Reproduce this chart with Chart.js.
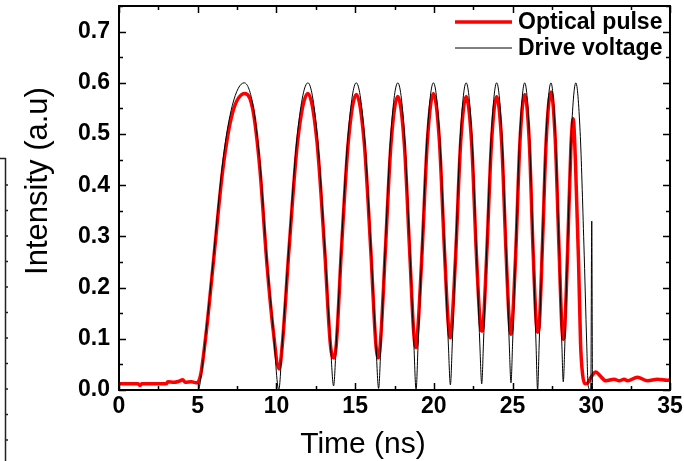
<!DOCTYPE html>
<html><head><meta charset="utf-8">
<script src="https://cdn.jsdelivr.net/npm/chart.js@4.4.1/dist/chart.umd.min.js"></script>
<style>html,body{margin:0;padding:0;background:#fff;}#wrap{width:684px;height:461px;position:relative;}</style>
</head><body><div id="wrap"><canvas id="c" width="684" height="461"></canvas></div>
<script>
// ---- data ----
const seriesLabels = ['Optical pulse', 'Drive voltage'];
const xTickValues = [0, 5, 10, 15, 20, 25, 30, 35];
const yTickValues = [0.0, 0.1, 0.2, 0.3, 0.4, 0.5, 0.6, 0.7];
const xTitle = 'Time (ns)';
const yTitle = 'Intensity (a.u)';

const pulseTime = [0, 1.2, 1.33, 1.45, 3.0, 3.1, 3.5, 3.8, 4.05, 4.2, 4.6, 4.97, 5.1, 5.22, 5.56, 5.98, 6.6, 7.2, 8.0, 8.5, 8.94, 9.4, 9.79, 10.17,
  10.37, 10.8, 11.35, 12.0, 12.57, 13.06, 13.43, 13.63,
  13.8, 14.13, 14.57, 15.07, 15.57, 15.99, 16.32, 16.49,
  16.64, 16.92, 17.28, 17.71, 18.12, 18.46, 18.73, 18.87,
  19.0, 19.26, 19.59, 19.97, 20.35, 20.67, 20.92, 21.05,
  21.17, 21.4, 21.7, 22.05, 22.4, 22.69, 22.92, 23.04,
  23.15, 23.37, 23.66, 23.99, 24.31, 24.58, 24.79, 24.9,
  25.0, 25.21, 25.47, 25.77, 26.06, 26.3, 26.49, 26.59,
  26.69, 26.89, 27.14, 27.44, 27.71, 27.95, 28.13, 28.22,
  28.32, 28.5, 28.7, 28.85, 29.0, 29.19, 29.32, 29.45, 29.6, 29.75,
  30.0, 30.29, 30.55, 30.92, 31.45, 31.77, 32.09, 32.3, 32.93, 33.57, 34.2, 34.83, 35];
const pulseValue = [0.012, 0.012, 0.009, 0.012, 0.012, 0.016, 0.015, 0.017, 0.02, 0.015, 0.016, 0.014, 0.02, 0.035, 0.118, 0.245, 0.432, 0.54, 0.579, 0.548, 0.435, 0.245, 0.118, 0.041,
  0.087, 0.275, 0.487, 0.579, 0.487, 0.275, 0.088, 0.063,
  0.088, 0.275, 0.486, 0.577, 0.486, 0.275, 0.088, 0.063,
  0.108, 0.273, 0.482, 0.573, 0.482, 0.273, 0.108, 0.083,
  0.127, 0.275, 0.487, 0.579, 0.487, 0.275, 0.127, 0.102,
  0.14, 0.273, 0.482, 0.573, 0.482, 0.273, 0.14, 0.115,
  0.134, 0.273, 0.482, 0.573, 0.482, 0.273, 0.134, 0.109,
  0.138, 0.275, 0.486, 0.577, 0.486, 0.275, 0.138, 0.113,
  0.124, 0.277, 0.49, 0.582, 0.49, 0.277, 0.124, 0.099,
  0.124, 0.275, 0.47, 0.53, 0.44, 0.252, 0.09, 0.03, 0.012, 0.013,
  0.026, 0.035, 0.028, 0.018, 0.021, 0.018, 0.021, 0.018, 0.025, 0.018, 0.021, 0.019, 0.02];

const driveTime = [0, 5.03, 5.25, 5.56, 5.98, 6.6, 7.2, 7.95, 8.5, 8.94, 9.4, 9.79, 10.15,
  10.37, 10.8, 11.35, 12.0, 12.57, 13.06, 13.43, 13.63,
  13.8, 14.13, 14.57, 15.07, 15.57, 15.99, 16.32, 16.49,
  16.64, 16.92, 17.28, 17.71, 18.12, 18.46, 18.73, 18.87,
  19.0, 19.26, 19.59, 19.97, 20.35, 20.67, 20.92, 21.05,
  21.17, 21.4, 21.7, 22.05, 22.4, 22.69, 22.92, 23.04,
  23.15, 23.37, 23.66, 23.99, 24.31, 24.58, 24.79, 24.9,
  25.0, 25.21, 25.47, 25.77, 26.06, 26.3, 26.49, 26.59,
  26.69, 26.89, 27.14, 27.44, 27.71, 27.95, 28.13, 28.22,
  28.32, 28.5, 28.74, 29.02, 29.29, 29.53, 29.71, 29.8,
  29.97, 30.03, 30.08, 35];
const driveValue = [0, 0, 0.035, 0.122, 0.252, 0.448, 0.556, 0.6, 0.558, 0.448, 0.252, 0.122, 0,
  0.09, 0.285, 0.505, 0.6, 0.505, 0.285, 0.09, 0.008,
  0.09, 0.285, 0.505, 0.6, 0.505, 0.285, 0.09, 0.003,
  0.09, 0.285, 0.505, 0.6, 0.505, 0.285, 0.09, 0,
  0.09, 0.285, 0.505, 0.6, 0.505, 0.285, 0.09, 0.01,
  0.09, 0.285, 0.505, 0.6, 0.505, 0.285, 0.09, 0.012,
  0.09, 0.285, 0.505, 0.6, 0.505, 0.285, 0.09, 0.014,
  0.09, 0.285, 0.505, 0.6, 0.505, 0.285, 0.09, 0,
  0.09, 0.285, 0.505, 0.6, 0.505, 0.285, 0.09, 0.016,
  0.09, 0.285, 0.505, 0.6, 0.505, 0.285, 0.09, 0.008,
  0, 0.33, 0, 0];

// ---- chart ----
const FONT = "'Liberation Sans', Arial, Helvetica, sans-serif";
const toPts = (xs, ys) => xs.map((x, i) => ({x: x, y: ys[i]}));

const frameAndTicks = {
  id: 'frameAndTicks',
  afterDatasetsDraw(chart) {
    const {ctx, chartArea: a, scales: {x, y}} = chart;
    ctx.save();
    ctx.strokeStyle = '#000';
    ctx.lineWidth = 1.5;
    ctx.beginPath();
    const maj = 7, mn = 4;
    for (let i = 0; i < xTickValues.length; i++) {
      const v = xTickValues[i];
      const px = Math.round(x.getPixelForValue(v)) + 0.5;
      ctx.moveTo(px, a.bottom); ctx.lineTo(px, a.bottom - maj);
      ctx.moveTo(px, a.top); ctx.lineTo(px, a.top + maj);
      if (i < xTickValues.length - 1) {
        const m = (v + xTickValues[i + 1]) / 2;
        const pm = Math.round(x.getPixelForValue(m)) + 0.5;
        ctx.moveTo(pm, a.bottom); ctx.lineTo(pm, a.bottom - mn);
        ctx.moveTo(pm, a.top); ctx.lineTo(pm, a.top + mn);
      }
    }
    for (let i = 0; i < yTickValues.length; i++) {
      const v = yTickValues[i];
      const py = Math.round(y.getPixelForValue(v)) + 0.5;
      ctx.moveTo(a.left, py); ctx.lineTo(a.left + maj, py);
      ctx.moveTo(a.right, py); ctx.lineTo(a.right - maj, py);
      const m = v + 0.05;
      const pm = Math.round(y.getPixelForValue(m)) + 0.5;
      ctx.moveTo(a.left, pm); ctx.lineTo(a.left + mn, pm);
      ctx.moveTo(a.right, pm); ctx.lineTo(a.right - mn, pm);
    }
    ctx.stroke();
    ctx.lineWidth = 2;
    ctx.strokeRect(a.left, a.top, a.right - a.left, a.bottom - a.top);
    ctx.restore();
  },
  afterDraw(chart) {
    const {ctx} = chart;
    ctx.save();
    ctx.fillStyle = '#000';
    ctx.font = '30px ' + FONT;
    ctx.textAlign = 'center';
    ctx.textBaseline = 'alphabetic';
    ctx.fillText(xTitle, 363, 453);
    ctx.save();
    ctx.translate(47, 181);
    ctx.rotate(-Math.PI / 2);
    ctx.font = '31px ' + FONT;
    ctx.fillText(yTitle, 0, 0);
    ctx.restore();
    const rows = [29, 55];
    ctx.font = 'bold 23px ' + FONT;
    ctx.textAlign = 'left';
    chart.data.datasets.forEach((ds, i) => {
      const base = rows[i];
      ctx.strokeStyle = ds.borderColor;
      ctx.lineWidth = ds.borderWidth;
      ctx.beginPath();
      ctx.moveTo(455, base - 7);
      ctx.lineTo(512, base - 7);
      ctx.stroke();
      ctx.fillText(ds.label, 518, base);
    });
    ctx.strokeStyle = '#222';
    ctx.lineWidth = 1.5;
    ctx.beginPath();
    ctx.moveTo(5.5, 158); ctx.lineTo(5.5, 461);
    ctx.moveTo(0, 158.5); ctx.lineTo(6, 158.5);
    for (let yy = 185; yy < 461; yy += 25.5) { ctx.moveTo(5.5, yy); ctx.lineTo(8, yy); }
    ctx.stroke();
    ctx.restore();
  }
};

new Chart(document.getElementById('c'), {
  type: 'line',
  data: {
    datasets: [
      {label: seriesLabels[0], data: toPts(pulseTime, pulseValue), borderColor: '#ff0000', borderWidth: 3.5,
       pointRadius: 0, cubicInterpolationMode: 'monotone', order: 2},
      {label: seriesLabels[1], data: toPts(driveTime, driveValue), borderColor: '#000000', borderWidth: 1,
       pointRadius: 0, cubicInterpolationMode: 'monotone', order: 1}
    ]
  },
  options: {
    responsive: false,
    devicePixelRatio: 1,
    animation: false,
    layout: {padding: {top: 6, right: 14, left: 0, bottom: 0}},
    plugins: {legend: {display: false}, tooltip: {enabled: false}, title: {display: false}},
    scales: {
      x: {
        type: 'linear', min: 0, max: 35,
        grid: {display: false, drawTicks: false},
        border: {display: false},
        afterBuildTicks: s => { s.ticks = xTickValues.map(v => ({value: v})); },
        afterFit: s => { s.height = 71; s.paddingLeft = 0; s.paddingRight = 0; s.paddingTop = 0; s.paddingBottom = 0; },
        ticks: {color: '#000', font: {family: FONT, size: 23, weight: 'bold'}, padding: 3, maxRotation: 0,
                autoSkip: false, callback: v => String(v)}
      },
      y: {
        type: 'linear', min: 0, max: 0.75,
        grid: {display: false, drawTicks: false},
        border: {display: false},
        afterBuildTicks: s => { s.ticks = yTickValues.map(v => ({value: v})); },
        afterFit: s => { s.width = 119; s.paddingTop = 0; s.paddingBottom = 0; s.paddingLeft = 0; s.paddingRight = 0; },
        ticks: {color: '#000', font: {family: FONT, size: 23, weight: 'bold'}, padding: 9,
                autoSkip: false, callback: v => Number(v).toFixed(1)}
      }
    }
  },
  plugins: [frameAndTicks]
});
</script></body></html>
